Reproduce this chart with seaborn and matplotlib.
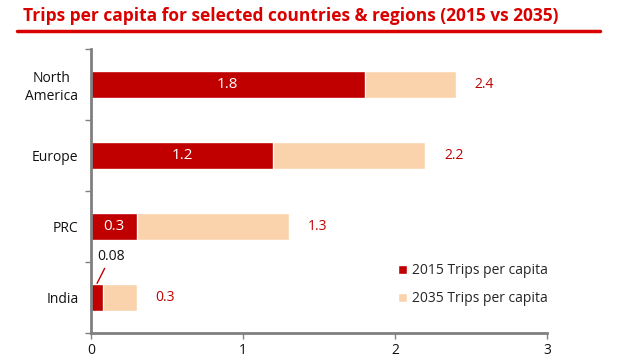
import matplotlib
matplotlib.use("Agg")
import matplotlib.pyplot as plt
import seaborn as sns
import pandas as pd
from matplotlib.patches import Patch

categories = ["North\nAmerica", "Europe", "PRC", "India"]
trips_2015 = [1.8, 1.2, 0.3, 0.08]
trips_2035 = [2.4, 2.2, 1.3, 0.3]
label_2015 = ["1.8", "1.2", "0.3", "0.08"]
label_2035 = ["2.4", "2.2", "1.3", "0.3"]
xticks = [0, 1, 2, 3]

sns.set_theme(style="white")
plt.rcParams['font.family'] = ['Open Sans', 'DejaVu Sans']

red = "#C00000"
peach = "#FAD3AC"
title_red = "#D90000"

df = pd.DataFrame({"cat": categories, "y2015": trips_2015, "y2035": trips_2035})

fig = plt.figure(figsize=(6.42, 3.64), dpi=100)
ax = fig.add_axes([91/642, 1-333/364, (547-91)/642, (333-49)/364])

sns.barplot(data=df, x="y2035", y="cat", color=peach, width=0.38, ax=ax,
            saturation=1, edgecolor="white", linewidth=1)
sns.barplot(data=df, x="y2015", y="cat", color=red, width=0.38, ax=ax,
            saturation=1, edgecolor="white", linewidth=1)

ax.set_xlim(0, 3)
ax.set_ylim(3.5, -0.5)
ax.set_xticks(xticks)
ax.set_xticklabels([str(t) for t in xticks], fontsize=10, color="#111111")
ax.set_xlabel("")
ax.set_ylabel("")
ax.set_yticks(range(len(categories)))
ax.set_yticklabels(categories, fontsize=10, color="#111111")
for lbl in ax.get_yticklabels():
    lbl.set_multialignment("center")
ax.set_yticks([-0.5, 0.5, 1.5, 2.5, 3.5], minor=True)
ax.tick_params(axis="y", which="major", length=0, pad=9)
ax.tick_params(axis="y", which="minor", length=4, color="#808080", width=1, left=True)
ax.tick_params(axis="x", which="major", length=4, color="#808080", width=1, bottom=True, pad=3)
for s in ["top", "right"]:
    ax.spines[s].set_visible(False)
for s in ["left", "bottom"]:
    ax.spines[s].set_color("#808080")
    ax.spines[s].set_linewidth(2)

# labels
for i, (v15, v35, l15, l35) in enumerate(zip(trips_2015, trips_2035, label_2015, label_2035)):
    if v15 >= 0.2:
        ax.text(v15 / 2, i, l15, color="white", ha="center", va="center", fontsize=11)
    else:
        ax.annotate(l15, xy=(0.04, i - 0.2), xytext=(0.13, i - 0.58),
                    ha="center", va="center", fontsize=10, color="#111111",
                    arrowprops=dict(arrowstyle="-", color=red, lw=1, shrinkA=1, shrinkB=0))
    ax.text(v35 + 0.125, i, l35, color=red, ha="left", va="center", fontsize=10)

handles = [Patch(facecolor=red, edgecolor="white", label="2015 Trips per capita"),
           Patch(facecolor=peach, edgecolor="white", label="2035 Trips per capita")]
ax.legend(handles=handles, loc="lower right", bbox_to_anchor=(1.03, 0.05), frameon=False,
          fontsize=10, handlelength=0.6, handleheight=0.6, handletextpad=0.4,
          labelspacing=0.95)

fig.text(23/642, 1-16/364, "Trips per capita for selected countries & regions (2015 vs 2035)",
         color=title_red, fontsize=12.5, fontweight="bold", ha="left", va="center")
fig.add_artist(plt.Line2D([17/642, 600/642], [1-31/364, 1-31/364], color=title_red, lw=2.5,
                          transform=fig.transFigure))

fig.savefig("out.png", dpi=100)
